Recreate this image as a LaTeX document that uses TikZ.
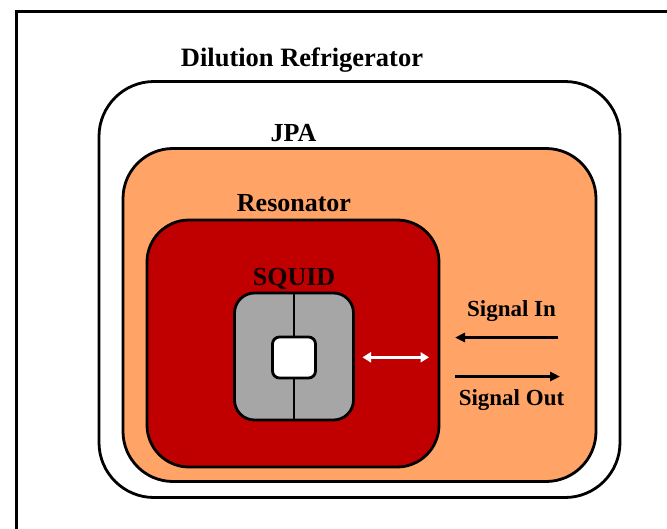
\documentclass[tikz,border=0pt]{standalone}
\usepackage{fontspec}
\setmainfont{Liberation Serif}
\usetikzlibrary{arrows.meta}
\definecolor{jpaorange}{RGB}{255,163,102}
\definecolor{resred}{RGB}{192,0,0}
\definecolor{squidgray}{RGB}{166,166,166}
\tikzset{
  box/.style={draw=black, line width=2.8pt, rectangle},
  lbl/.style={font=\bfseries, text=black, inner sep=0pt, anchor=base},
  sigarrow/.style={draw=black, line width=2.7pt, -{Triangle[length=10pt,width=9pt]}},
}
\begin{document}
\begin{tikzpicture}[x=1pt,y=-1pt]
\useasboundingbox (0,0) rectangle (667,528);
\begin{scope}
\clip (0,0) rectangle (667,528);
\draw[line width=3pt] (16,11) rectangle (720,580);
\end{scope}
\node[box, fill=white, rounded corners=55pt, minimum width=521pt, minimum height=416pt] (fridge) at (359.5,289.5) {};
\node[box, fill=jpaorange, rounded corners=50pt, minimum width=473pt, minimum height=333pt] (jpa) at (359.5,315) {};
\node[box, fill=resred, rounded corners=42pt, minimum width=292pt, minimum height=247pt] (res) at (293,343.5) {};
\node[box, fill=squidgray, rounded corners=20pt, minimum width=119pt, minimum height=127pt] (squid) at (294,356.5) {};
\draw[line width=2.2pt] (squid.north) -- (squid.south);
\node[box, fill=white, rounded corners=7pt, minimum width=43pt, minimum height=41pt] (loop) at (294,357.5) {};
\node[lbl, font=\bfseries\fontsize{26.5}{30}\selectfont] (tfridge) at (302,66) {Dilution Refrigerator};
\node[lbl, font=\bfseries\fontsize{26}{29}\selectfont] (tjpa) at (293.5,141) {JPA};
\node[lbl, font=\bfseries\fontsize{26}{29}\selectfont] (tres) at (294,211.5) {Resonator};
\node[lbl, font=\bfseries\fontsize{26}{29}\selectfont, text=black!90!resred] (tsquid) at (294,285) {SQUID};
\node[lbl, font=\bfseries\fontsize{23}{26}\selectfont] (tin) at (511.5,316.5) {Signal In};
\node[lbl, font=\bfseries\fontsize{23}{26}\selectfont] (tout) at (511.5,405) {Signal Out};
\coordinate (inR) at (558,337.5);
\coordinate (inL) at (455,337.5);
\coordinate (outL) at (455,376.5);
\coordinate (outR) at (560,376.5);
\coordinate (cL) at (362.5,357.3);
\coordinate (cR) at (429,357.3);
\draw[sigarrow] (inR) -- (inL);
\draw[sigarrow] (outL) -- (outR);
\draw[draw=white, line width=2.4pt, {Triangle[length=8.5pt,width=10pt]}-{Triangle[length=8.5pt,width=10pt]}] (cL) -- (cR);
\end{tikzpicture}
\end{document}
